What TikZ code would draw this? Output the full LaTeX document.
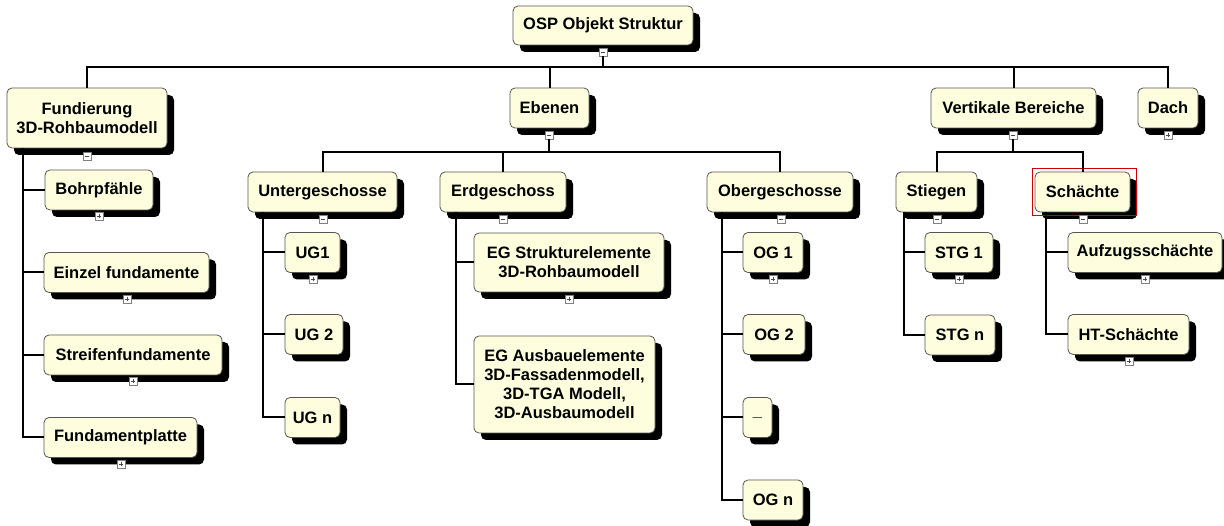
\documentclass[tikz,border=0pt]{standalone}
\usepackage{fontspec}
\setmainfont{Liberation Sans}
\usetikzlibrary{shadows}
\definecolor{boxfill}{HTML}{FEFEDF}
\definecolor{boxline}{HTML}{555555}
\begin{document}
\begin{tikzpicture}[x=1pt,y=-1pt,
  box/.style={draw=boxline, line width=0.8pt, fill=boxfill, rounded corners=5pt,
    align=center, inner sep=0pt, minimum height=40pt,
    font=\fontsize{16.5}{19}\selectfont\bfseries,
    drop shadow={shadow xshift=7pt, shadow yshift=-7pt, opacity=1, fill=black}},
  link/.style={line width=2pt, black},
  tog/.style={draw=gray, fill=white, line width=0.6pt, minimum size=8pt, inner sep=0pt},
  togminus/.style={tog, path picture={
      \draw[line width=0.7pt, black!70]
        ([xshift=1.7pt]path picture bounding box.west) -- ([xshift=-1.7pt]path picture bounding box.east);}},
  togplus/.style={tog, path picture={
      \draw[line width=0.7pt, black!70]
        ([xshift=1.7pt]path picture bounding box.west) -- ([xshift=-1.7pt]path picture bounding box.east)
        ([yshift=-1.7pt]path picture bounding box.north) -- ([yshift=1.7pt]path picture bounding box.south);}}
]
\useasboundingbox[fill=white] (0,0) rectangle (1224,526);

% ---- boxes ----
\node[box, minimum width=180pt, minimum height=39pt] (osp) at (603,25.5) {OSP Objekt Struktur};

\node[box, minimum width=160pt, minimum height=60pt] (fund) at (87,118) {Fundierung\\3D-Rohbaumodell};
\node[box, minimum width=79pt] (eben) at (549.5,108) {Ebenen};
\node[box, minimum width=165pt] (vert) at (1013.5,108) {Vertikale Bereiche};
\node[box, minimum width=60pt] (dach) at (1168,108) {Dach};

\node[box, minimum width=108pt] (bohr) at (99,190) {Bohrpfähle};
\node[box, minimum width=165pt] (einzel) at (126.5,272.5) {Einzel fundamente};
\node[box, minimum width=178pt] (streifen) at (133,355) {Streifenfundamente};
\node[box, minimum width=153pt] (fplatte) at (120.5,437.5) {Fundamentplatte};

\node[box, minimum width=149pt] (unter) at (322.5,192) {Untergeschosse};
\node[box, minimum width=126pt] (erd) at (503,192) {Erdgeschoss};
\node[box, minimum width=146pt] (ober) at (780,192) {Obergeschosse};

\node[box, minimum width=55pt] (ug1) at (312.5,252.5) {UG1};
\node[box, minimum width=58pt] (ug2) at (314,334.5) {UG 2};
\node[box, minimum width=55pt] (ugn) at (312.5,417.5) {UG n};

\node[box, minimum width=190pt, minimum height=59pt] (egs) at (569,262.5) {EG Strukturelemente\\3D-Rohbaumodell};
\node[box, minimum width=181pt, minimum height=97pt] (ega) at (564.5,384.5) {EG Ausbauelemente\\3D-Fassadenmodell,\\3D-TGA Modell,\\3D-Ausbaumodell};

\node[box, minimum width=60pt] (og1) at (773,252.5) {OG 1};
\node[box, minimum width=62pt] (og2) at (774,334.5) {OG 2};
\node[box, minimum width=29pt] (ogx) at (757.5,417.5) {\_};
\node[box, minimum width=60pt] (ogn) at (773,500) {OG n};

\node[box, minimum width=81pt] (stieg) at (936.5,192) {Stiegen};
\node[box, minimum width=95pt] (schacht) at (1082.5,192) {Schächte};

\node[box, minimum width=68pt] (stg1) at (959,252.5) {STG 1};
\node[box, minimum width=70pt] (stgn) at (960,335) {STG n};

\node[box, minimum width=154pt] (aufz) at (1145,252.5) {Aufzugsschächte};
\node[box, minimum width=121pt] (ht) at (1128.5,334.5) {HT-Schächte};

% selection frame
\draw[red!80!black, line width=0.6pt] ([shift={(-2,-3)}]schacht.north west) rectangle ([shift={(6,3)}]schacht.south east);

% ---- expand / collapse markers ----
\node[togminus] (t-osp) at (603,52) {};
\node[togminus] (t-fund) at (87,156) {};
\node[togminus] (t-eben) at (549,135) {};
\node[togminus] (t-vert) at (1013,135) {};
\node[togplus]  (t-dach) at (1168,135) {};
\node[togminus] (t-unter) at (323,219) {};
\node[togminus] (t-erd) at (503,219) {};
\node[togminus] (t-ober) at (781,219) {};
\node[togminus] (t-stieg) at (937,219) {};
\node[togminus] (t-schacht) at (1083,219) {};
\node[togplus] (t-bohr) at (99,216) {};
\node[togplus] (t-einzel) at (127,299) {};
\node[togplus] (t-streifen) at (133,381) {};
\node[togplus] (t-fplatte) at (121,464) {};
\node[togplus] (t-ug1) at (313,279) {};
\node[togplus] (t-og1) at (773,279) {};
\node[togplus] (t-stg1) at (959,279) {};
\node[togplus] (t-egs) at (569,299) {};
\node[togplus] (t-aufz) at (1145,279) {};
\node[togplus] (t-ht) at (1129,361) {};

% ---- connectors ----
\coordinate (bus0) at (603,67);
\coordinate (bus1) at (549,152);
\coordinate (bus2) at (1013,152);

\begin{scope}[link]
% top level
\draw (t-osp.south) -- (bus0);
\draw (bus0) -| (fund.north);
\draw (bus0) -| (eben.north);
\draw (bus0) -| (vert.north);
\draw (bus0) -| (dach.north);
% Ebenen
\draw (t-eben.south) -- (bus1);
\draw (bus1) -| (unter.north);
\draw (bus1) -| (erd.north);
\draw (bus1) -| (ober.north);
% Vertikale Bereiche
\draw (t-vert.south) -- (bus2);
\draw (bus2) -| (stieg.north);
\draw (bus2) -| (schacht.north);
% Fundierung children
\draw ([xshift=16pt]fund.south west) |- (bohr.west);
\draw ([xshift=16pt]fund.south west) |- (einzel.west);
\draw ([xshift=16pt]fund.south west) |- (streifen.west);
\draw ([xshift=16pt]fund.south west) |- (fplatte.west);
% Untergeschosse children
\draw ([xshift=15pt]unter.south west) |- (ug1.west);
\draw ([xshift=15pt]unter.south west) |- (ug2.west);
\draw ([xshift=15pt]unter.south west) |- (ugn.west);
% Erdgeschoss children
\draw ([xshift=16pt]erd.south west) |- (egs.west);
\draw ([xshift=16pt]erd.south west) |- (ega.west);
% Obergeschosse children
\draw ([xshift=15pt]ober.south west) |- (og1.west);
\draw ([xshift=15pt]ober.south west) |- (og2.west);
\draw ([xshift=15pt]ober.south west) |- (ogx.west);
\draw ([xshift=15pt]ober.south west) |- (ogn.west);
% Stiegen children
\draw ([xshift=8pt]stieg.south west) |- (stg1.west);
\draw ([xshift=8pt]stieg.south west) |- (stgn.west);
% Schächte children
\draw ([xshift=11pt]schacht.south west) |- (aufz.west);
\draw ([xshift=11pt]schacht.south west) |- (ht.west);
\end{scope}
\end{tikzpicture}
\end{document}
